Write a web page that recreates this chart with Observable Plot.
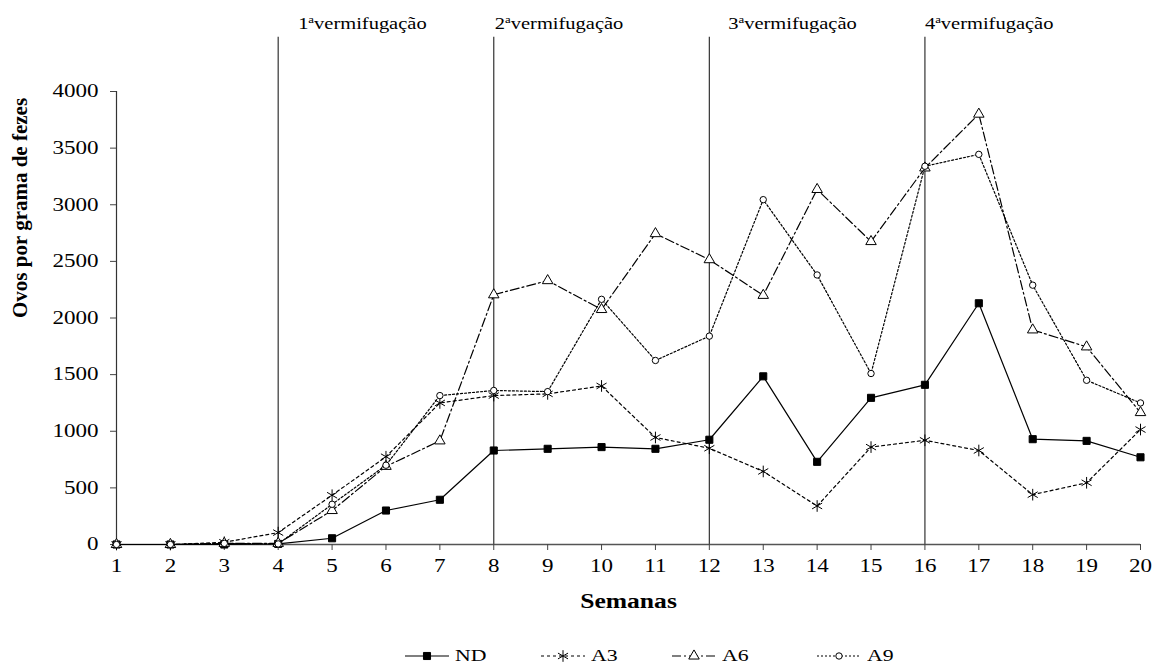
<!DOCTYPE html>
<html><head><meta charset="utf-8">
<script src="https://cdn.jsdelivr.net/npm/d3@7"></script>
<script src="https://cdn.jsdelivr.net/npm/@observablehq/plot@0.6"></script>
<style>
body{margin:0;background:#fff;font-family:"Liberation Serif",serif;color:#000;}
#legend{position:relative;height:23px;width:1152px;margin-top:4px;}
.item{position:absolute;top:0;height:23px;display:flex;align-items:center;}
.item span{font-size:17px;display:inline-block;transform:scaleX(1.28);transform-origin:left center;margin-left:6px;}
</style></head><body>
<div id="chart"></div><div id="legend"></div>
<script>
// ---- data ----
const weeks = [1,2,3,4,5,6,7,8,9,10,11,12,13,14,15,16,17,18,19,20];
const seriesNames = ["ND","A3","A6","A9"];
const ND = [0,0,0,5,55,300,395,830,845,860,845,925,1485,730,1295,1410,2130,930,915,770];
const A3 = [0,0,20,105,435,775,1250,1315,1330,1400,945,850,645,340,860,920,830,440,545,1015];
const A6 = [0,0,10,10,300,690,915,2205,2330,2075,2745,2515,2200,3135,2675,3325,3800,1895,1745,1165];
const A9 = [0,0,10,5,355,700,1315,1360,1350,2165,1625,1840,3045,2380,1510,3340,3445,2290,1450,1250];
const yTicks = [0,500,1000,1500,2000,2500,3000,3500,4000];
const treatWeeks = [4,8,12,16];
const treatNumbers = ["1","2","3","4"];
const treatLabelWeeks = [4.37,8.02,12.35,16.0];
const treatText = "vermifugação";
const xTitle = "Semanas";
const yTitle = "Ovos por grama de fezes";

// ---- styles ----
const styles = {
  ND: {dash: null, symbol: "square", fill: "#000", r: 4},
  A3: {dash: "3,3", symbol: "asterisk", fill: "none", r: 5.5},
  A6: {dash: "9,3,2,3", symbol: "triangle", fill: "none", r: 3.9},
  A9: {dash: "2,2", symbol: "circle", fill: "none", r: 3.2}
};
const valuesBy = {ND, A3, A6, A9};
const rows = seriesNames.flatMap(s => weeks.map((w,i) => ({series: s, week: w, value: valuesBy[s][i]})));
const treatRows = treatWeeks.map((w,i) => ({week: w, lx: treatLabelWeeks[i], label: treatNumbers[i] + "ª" + treatText}));

const marks = [
  Plot.ruleX(treatWeeks, {x: d => d, y1: 0, y2: 4480, stroke: "#333", strokeWidth: 1.2}),
  Plot.ruleY([0], {stroke: "#555", strokeWidth: 1.5}),
  Plot.ruleX([1], {y1: 0, y2: 4000, stroke: "#333", strokeWidth: 1.2}),
  Plot.axisX({ticks: weeks, tickSize: 6, tickPadding: 9, tickFormat: d => String(d), label: null, stroke: "#444", fontSize: 18}),
  Plot.axisY({ticks: yTicks, tickSize: 6, tickPadding: 12, tickFormat: d => String(d), label: null, stroke: "#444", fontSize: 18}),
  Plot.text(treatRows, {x: "lx", y: 4600, text: "label", textAnchor: "start", fontSize: 16}),
  Plot.text([xTitle], {frameAnchor: "bottom", dy: 63, fontSize: 20, fontWeight: "bold"}),
  Plot.text([yTitle], {frameAnchor: "left", rotate: -90, dx: -96, fontSize: 21, fontWeight: "bold"})
];
for (const s of seriesNames) {
  const st = styles[s];
  const data = rows.filter(d => d.series === s);
  marks.push(Plot.line(data, {x: "week", y: "value", stroke: "#000", strokeWidth: 1.2, strokeDasharray: st.dash}));
  marks.push(Plot.dot(data, {x: "week", y: "value", symbol: () => st.symbol, r: st.r, fill: st.fill === "none" ? "#fff" : st.fill, stroke: "#000", strokeWidth: 1}));
}

const svg = Plot.plot({
  width: 1152, height: 640,
  marginLeft: 116, marginRight: 12, marginTop: 91, marginBottom: 96,
  style: {fontFamily: "Liberation Serif", fontSize: "17px", color: "#000", background: "#fff"},
  x: {domain: [1,20]},
  y: {domain: [0,4000]},
  symbol: {type: "identity"},
  marks
});
document.getElementById("chart").append(svg);

const NS = "http://www.w3.org/2000/svg";
svg.querySelectorAll("text").forEach(t => {
  if (t.textContent.includes("ª")) {
    const [n, rest] = t.textContent.split("ª");
    t.textContent = "";
    const a = document.createElementNS(NS, "tspan"); a.textContent = n;
    const b = document.createElementNS(NS, "tspan"); b.textContent = "a"; b.setAttribute("dy", "-6"); b.setAttribute("font-size", "10");
    const c = document.createElementNS(NS, "tspan"); c.textContent = rest; c.setAttribute("dy", "6");
    t.append(a, b, c);
  }
});
svg.querySelectorAll("text").forEach(t => {
  const tr = t.getAttribute("transform") || "";
  if (tr.includes("rotate")) return;
  const len = t.getComputedTextLength();
  if (len > 0) {
    t.setAttribute("textLength", (len * 1.28).toFixed(1));
    t.setAttribute("lengthAdjust", "spacingAndGlyphs");
  }
});

// ---- legend ----
const legend = d3.select("#legend");
const lefts = [405, 541, 672, 817];
seriesNames.forEach((s, i) => {
  const st = styles[s];
  const item = legend.append("div").attr("class", "item").style("left", lefts[i] + "px");
  const sv = item.append("svg").attr("width", 44).attr("height", 14);
  sv.append("line").attr("x1", 0).attr("x2", 44).attr("y1", 7).attr("y2", 7)
    .attr("stroke", "#000").attr("stroke-width", 1.2).attr("stroke-dasharray", st.dash);
  const symMap = {square: d3.symbolSquare, asterisk: d3.symbolAsterisk, triangle: d3.symbolTriangle, circle: d3.symbolCircle};
  sv.append("path").attr("transform", "translate(22,7)")
    .attr("d", d3.symbol(symMap[st.symbol], st.r * st.r * Math.PI)())
    .attr("fill", st.fill === "none" ? "#fff" : st.fill).attr("stroke", "#000");
  item.append("span").text(s);
});
</script>
</body></html>
